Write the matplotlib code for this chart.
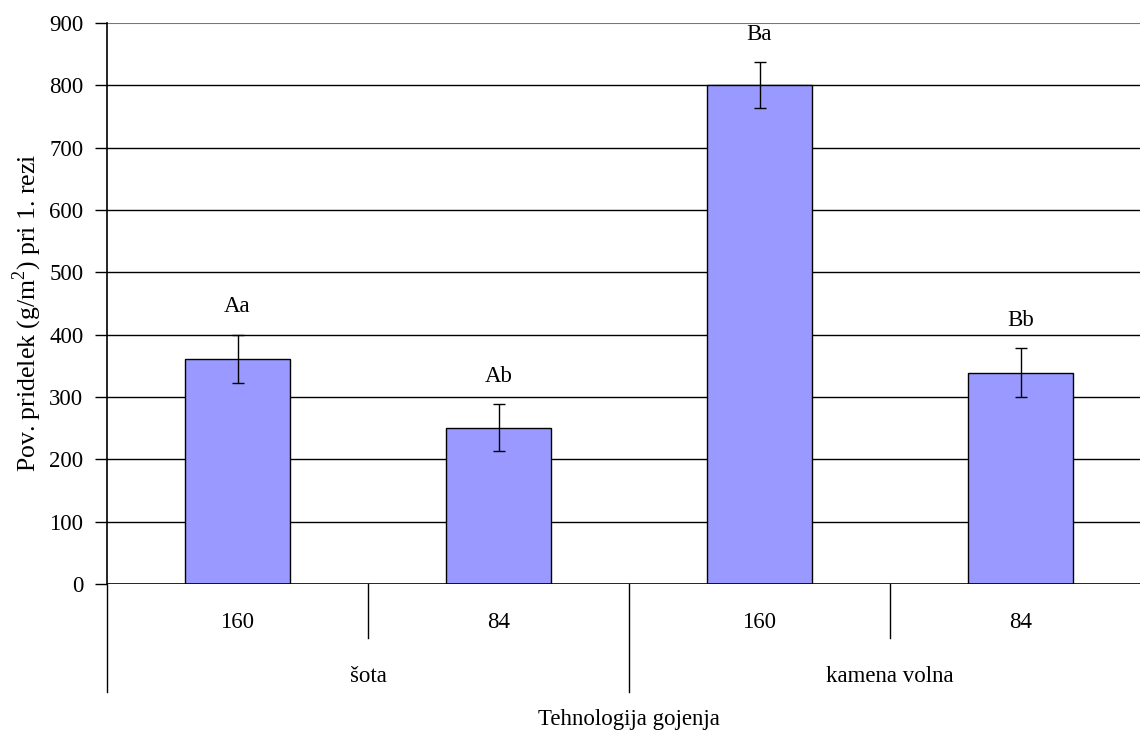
import numpy as np
import matplotlib.pyplot as plt

plt.rcParams['font.family'] = ['Liberation Serif', 'DejaVu Serif']
plt.rcParams['mathtext.fontset'] = 'custom'
plt.rcParams['mathtext.rm'] = 'Liberation Serif'

# podatki
skupine = ['šota', 'kamena volna']
gostote = ['160', '84', '160', '84']
pridelek = [361, 251, 800, 339]
napaka = [39, 37, 37, 39]
oznake = ['Aa', 'Ab', 'Ba', 'Bb']

fs = 16.5

fig = plt.figure(figsize=(11.4, 7.33), dpi=100)
ax = fig.add_axes([107 / 1140, 149 / 733, 1044 / 1140, 561 / 733])

x = np.arange(len(pridelek))
ax.bar(x, pridelek, width=0.4, color='#9999FF', edgecolor='black', linewidth=1, zorder=3)
ax.errorbar(x, pridelek, yerr=napaka, fmt='none', ecolor='black', elinewidth=1,
            capsize=4, capthick=1, zorder=4)

for xi, v, e, t in zip(x, pridelek, napaka, oznake):
    ax.text(xi, v + e + 45, t, ha='center', va='center', fontsize=fs)

ax.set_xlim(-0.5, 3.5)
ax.set_ylim(0, 900)
ax.set_yticks(range(0, 901, 100))
for yv in range(100, 801, 100):
    ax.axhline(yv, color='black', lw=1, zorder=1)
ax.axhline(900, color='#777777', lw=1.5, zorder=1)

for s in ['top', 'right', 'bottom']:
    ax.spines[s].set_visible(False)
ax.spines['left'].set_linewidth(1.2)
ax.axhline(0, color='black', lw=1.2, zorder=5)
ax.tick_params(axis='y', direction='out', length=9, width=1, labelsize=fs, pad=8)
ax.set_xticks([])

# večnivojska os x
tr = ax.get_xaxis_transform()
for xs in [0.5, 2.5]:
    ax.plot([xs, xs], [0, -0.0963], color='black', lw=1, transform=tr, clip_on=False)
for xs in [-0.5, 1.5, 3.5]:
    ax.plot([xs, xs], [0, -0.1925], color='black', lw=1, transform=tr, clip_on=False)
for xi, g in zip(x, gostote):
    ax.text(xi, -39 / 561, g, ha='center', va='center', fontsize=fs, transform=tr)
for i, g in enumerate(skupine):
    ax.text(2 * i + 0.5, -92 / 561, g, ha='center', va='center', fontsize=fs, transform=tr)
ax.text(1.5, -136 / 561, 'Tehnologija gojenja', ha='center', va='center',
        fontsize=fs, transform=tr)

fig.text(27 / 1140, 1 - 313 / 733, r'Pov. pridelek (g/m$^{2}$) pri 1. rezi',
         rotation=90, ha='center', va='center', fontsize=18.5)

fig.savefig('out.png', dpi=100)
